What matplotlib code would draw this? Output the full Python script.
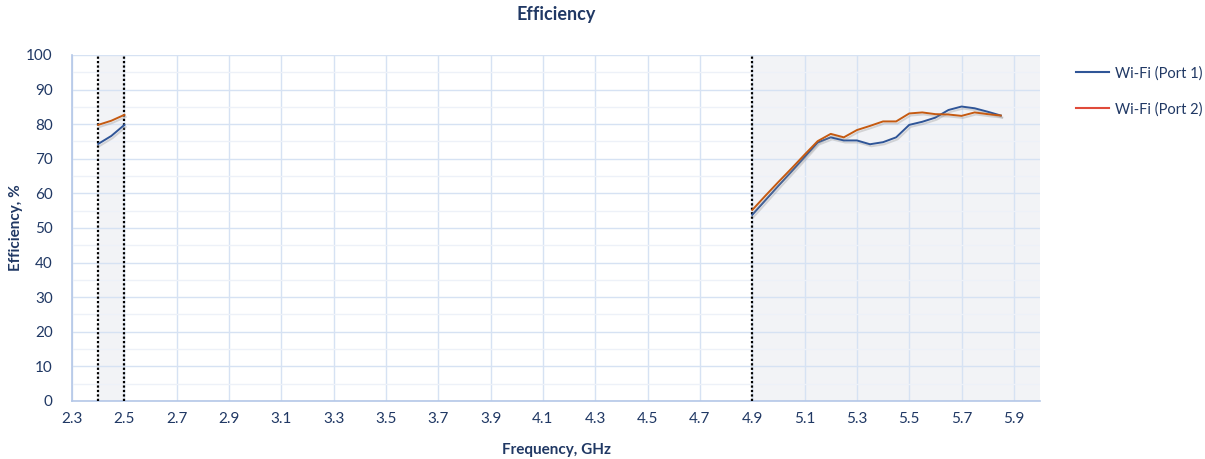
import matplotlib.pyplot as plt
import matplotlib.patheffects as pe
from matplotlib.lines import Line2D
from matplotlib.ticker import MultipleLocator

freq_24 = [2.40, 2.45, 2.50]
port1_24 = [74.3, 76.6, 79.8]
port2_24 = [79.8, 81.0, 82.7]

freq_5 = [4.90, 4.95, 5.00, 5.05, 5.10, 5.15, 5.20, 5.25, 5.30, 5.35, 5.40,
          5.45, 5.50, 5.55, 5.60, 5.65, 5.70, 5.75, 5.80, 5.85]
port1_5 = [53.8, 58.0, 62.2, 66.3, 70.5, 74.7, 76.2, 75.3, 75.3, 74.2, 74.8,
           76.2, 79.8, 80.7, 81.9, 84.1, 85.1, 84.6, 83.6, 82.5]
port2_5 = [55.2, 59.3, 63.3, 67.2, 71.2, 75.1, 77.2, 76.2, 78.3, 79.5, 80.8,
           80.8, 83.1, 83.4, 82.9, 82.8, 82.4, 83.4, 82.9, 82.5]

bands = [(2.4, 2.5), (4.9, 6.0)]
band_edges = [2.4, 2.5, 4.9]
xticks = [2.3, 2.5, 2.7, 2.9, 3.1, 3.3, 3.5, 3.7, 3.9, 4.1, 4.3, 4.5, 4.7, 4.9,
          5.1, 5.3, 5.5, 5.7, 5.9]

text_col = '#203864'
blue = '#2f5597'
orange = '#c55a11'
legend_red = '#e04b3a'

plt.rcParams['font.family'] = ['Lato', 'DejaVu Sans']

fig = plt.figure(figsize=(12.05, 4.59), dpi=100)
ax = fig.add_axes([0.0598, 0.1264, 0.8033, 0.7538])

for lo, hi in bands:
    ax.axvspan(lo, hi, color='#f2f3f6', zorder=0, lw=0)
for x in band_edges:
    ax.axvline(x, color='black', ls=(0, (1, 1)), lw=1.6, zorder=3)

shadow = [pe.SimpleLineShadow(offset=(1.0, -1.5), shadow_color='#888888', alpha=0.3), pe.Normal()]
for fx, p1, p2 in [(freq_24, port1_24, port2_24), (freq_5, port1_5, port2_5)]:
    ax.plot(fx, p1, color=blue, lw=1.4, zorder=4, path_effects=shadow)
    ax.plot(fx, p2, color=orange, lw=1.4, zorder=4, path_effects=shadow)

ax.set_xlim(2.3, 6.0)
ax.set_ylim(0, 100)
ax.set_xticks(xticks)
ax.set_xticklabels([f'{v:.1f}' for v in xticks])
ax.yaxis.set_major_locator(MultipleLocator(10))
ax.yaxis.set_minor_locator(MultipleLocator(5))
ax.grid(True, which='major', color='#d6e2f3', lw=1.0, zorder=1)
ax.grid(True, which='minor', axis='y', color='#edf1f8', lw=1.0, zorder=1)
ax.set_axisbelow(True)

for s in ['top', 'right']:
    ax.spines[s].set_visible(False)
for s in ['left', 'bottom']:
    ax.spines[s].set_color('#b4c7e7')
    ax.spines[s].set_linewidth(1.2)

ax.tick_params(which='both', length=0, colors=text_col, labelsize=11, pad=8)
ax.tick_params(axis='y', pad=14)

ax.set_title('Efficiency', color=text_col, fontsize=13, fontweight='bold', pad=25)
ax.set_xlabel('Frequency, GHz', color=text_col, fontsize=11, fontweight='bold', labelpad=12)
ax.set_ylabel('Efficiency, %', color=text_col, fontsize=11, fontweight='bold', labelpad=2)

handles = [Line2D([], [], color=blue, lw=1.5), Line2D([], [], color=legend_red, lw=1.5)]
fig.legend(handles, ['Wi-Fi (Port 1)', 'Wi-Fi (Port 2)'], loc='upper left',
           bbox_to_anchor=(0.882, 0.885), frameon=False, fontsize=10.5,
           labelcolor=text_col, handlelength=2.3, labelspacing=1.5, handletextpad=0.4)

fig.savefig('out.png', dpi=100)
